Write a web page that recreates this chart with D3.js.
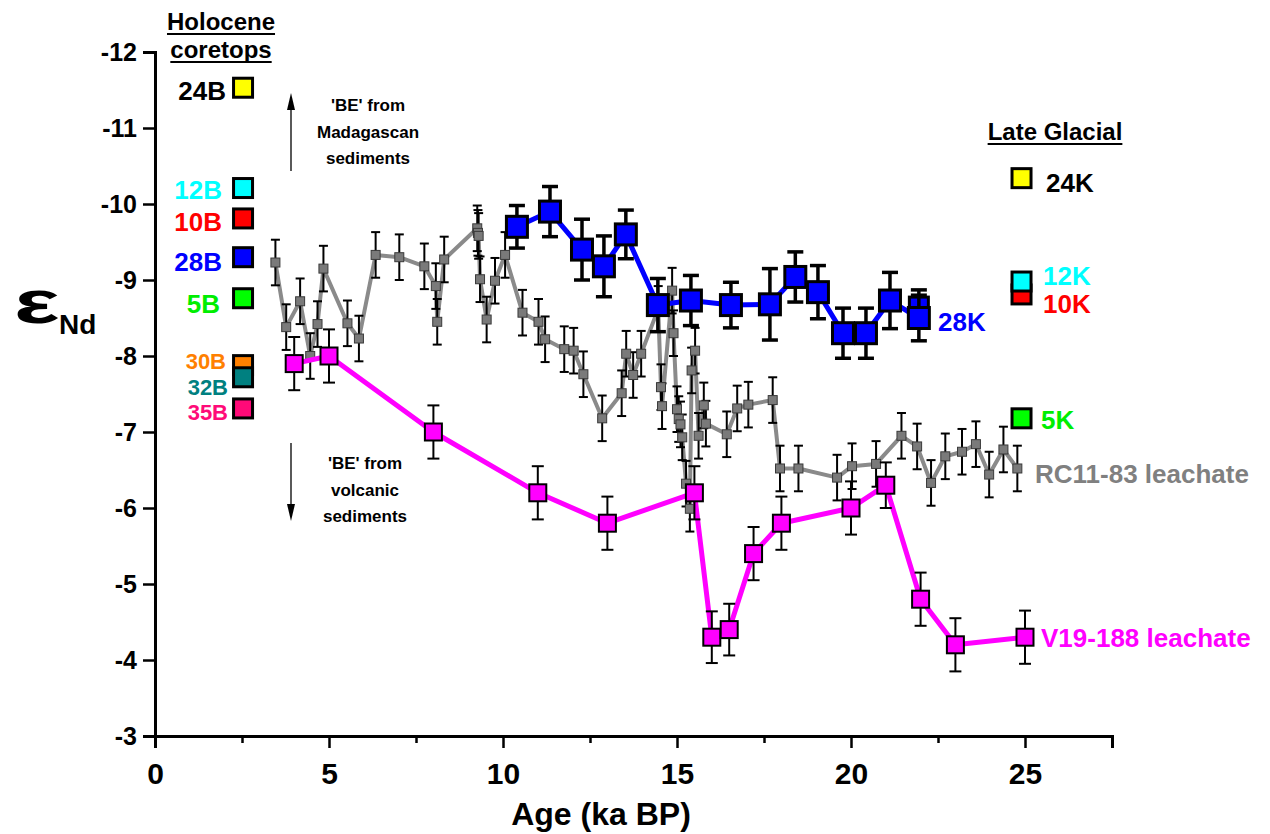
<!DOCTYPE html>
<html><head><meta charset="utf-8">
<script src="https://cdn.jsdelivr.net/npm/d3@7"></script>
<style>body{margin:0;background:#fff}svg{display:block}text{font-family:"Liberation Sans",Arial,sans-serif;font-weight:bold}</style>
</head><body><svg id="c" width="1270" height="834"></svg>
<script>
// ---- data ----
const xTicks = [0,5,10,15,20,25];
const xMinorTicks = [2.5,7.5,12.5,17.5,22.5,27.5];
const yTicks = [-12,-11,-10,-9,-8,-7,-6,-5,-4,-3];

// V19-188 leachate
const v19Age = [4,5,8,11,13,15.5,16,16.5,17.2,18,20,21,22,23,25];
const v19Eps = [-7.9,-8.0,-7.0,-6.2,-5.8,-6.2,-4.3,-4.4,-5.4,-5.8,-6.0,-6.3,-4.8,-4.2,-4.3];
const v19Err = [0.35,0.35,0.35,0.35,0.35,0.35,0.34,0.34,0.35,0.35,0.35,0.3,0.35,0.35,0.35];

// 28K
const k28Age = [10.4,11.35,12.27,12.9,13.53,14.45,15.4,16.55,17.67,18.4,19.05,19.77,20.43,21.12,21.95];
const k28Eps = [-9.7,-9.9,-9.4,-9.18,-9.6,-8.67,-8.73,-8.67,-8.68,-9.04,-8.84,-8.3,-8.3,-8.73,-8.5];
const k28Err = [0.28,0.33,0.4,0.4,0.32,0.35,0.33,0.3,0.47,0.33,0.35,0.33,0.33,0.37,0.3];
const k28ExtraAge = [21.95];
const k28ExtraEps = [-8.65];
const k28ExtraErr = [0.22];

// RC11-83 leachate
const rcAge = [3.46,3.77,4.17,4.46,4.67,4.84,5.53,5.86,6.34,7.02,7.74,8.07,8.11,8.31,9.26,9.28,9.3,9.34,9.53,9.77,10.06,10.56,11.02,11.21,11.76,12.03,12.31,12.85,13.41,13.54,13.74,13.97,14.46,14.54,14.57,14.86,14.9,15.0,15.05,15.1,15.15,15.26,15.37,15.42,15.52,15.62,15.77,15.83,16.43,16.73,17.05,17.75,17.96,18.49,19.6,20.03,20.72,21.45,21.9,22.3,22.71,23.19,23.59,23.97,24.38,24.78];
const rcEps = [-9.23,-8.38,-8.72,-8.0,-8.42,-9.15,-8.43,-8.23,-9.33,-9.3,-9.18,-8.92,-8.45,-9.27,-9.68,-9.62,-9.58,-9.01,-8.48,-8.99,-9.33,-8.57,-8.45,-8.22,-8.09,-8.07,-7.76,-7.18,-7.51,-8.03,-7.75,-8.03,-8.62,-7.59,-7.34,-8.86,-8.3,-7.3,-7.17,-7.1,-6.93,-6.32,-5.99,-7.81,-8.07,-6.95,-7.35,-7.11,-6.97,-7.31,-7.36,-7.42,-6.52,-6.52,-6.4,-6.55,-6.58,-6.95,-6.81,-6.33,-6.68,-6.74,-6.84,-6.44,-6.77,-6.52];
const rcErr = 0.3;

// Holocene coretops
const holoNames = ["24B","12B","10B","28B","5B","30B","32B","35B"];
const holoEps = [-11.53,-10.21,-9.81,-9.3,-8.76,-7.88,-7.72,-7.31];
const holoColors = ["#ffff00","#00ffff","#ff0000","#0000ff","#00ff00","#ff8000","#008080","#ff0a78"];
const holoLabelColors = ["#000000","#00ffff","#ff0000","#0000ff","#00ee00","#ff8000","#008080","#ff0a78"];
const holoAge = 2.53;

// Late Glacial
const lgNames = ["24K","10K","12K","5K"];
const lgEps = [-10.34,-8.81,-8.98,-7.18];
const lgColors = ["#ffff00","#ff0000","#00ffff","#00ff00"];
const lgLabelColors = ["#000000","#ff0000","#00ffff","#00ee00"];
const lgAge = 24.9;

// ---- chart ----
const svg = d3.select("#c");
const x = d3.scaleLinear().domain([0,27.5]).range([155,1112]);
const y = d3.scaleLinear().domain([-12,-3]).range([52,736]);

// axes
const xAxis = svg.append("g").attr("transform","translate(0,736)")
  .call(d3.axisBottom(x).tickValues(xTicks).tickSize(12).tickPadding(15).tickFormat(d=>String(d)));
svg.append("g").attr("transform","translate(0,736)")
  .call(d3.axisBottom(x).tickValues(xMinorTicks).tickSize(7).tickFormat(""))
  .select(".domain").remove();
const yAxis = svg.append("g").attr("transform","translate(155,0)")
  .call(d3.axisLeft(y).tickValues(yTicks).tickSize(12).tickPadding(6).tickFormat(d=>String(d)));
svg.selectAll(".domain").attr("stroke","#000").attr("stroke-width",3);
svg.selectAll(".tick line").attr("stroke","#000").attr("stroke-width",2.5);
xAxis.selectAll(".tick text").attr("font-family","'Liberation Sans Narrow','Liberation Sans',Arial").attr("font-weight","bold").attr("font-size",30).attr("fill","#000");
yAxis.selectAll(".tick text").attr("font-family","'Liberation Sans',Arial").attr("font-weight","bold").attr("font-size",25).attr("fill","#000");

svg.append("text").attr("x",601).attr("y",825).attr("text-anchor","middle")
  .attr("font-family","'Liberation Sans Narrow','Liberation Sans',Arial").attr("font-size",32).text("Age (ka BP)");
svg.append("text").attr("transform","translate(14,323) scale(1.55,1)")
  .attr("font-family","'DejaVu Sans',sans-serif").attr("font-size",62).text("ε");
svg.append("text").attr("x",59).attr("y",334).attr("font-size",28).text("Nd");

function series(ages, eps, errs, opt){
  const pts = ages.map((a,i)=>({a, e:eps[i], err: Array.isArray(errs)?errs[i]:errs}));
  const g = svg.append("g");
  if(opt.line){
    g.append("path").datum(pts).attr("fill","none").attr("stroke",opt.line).attr("stroke-width",opt.lw)
      .attr("stroke-linejoin","round")
      .attr("d",d3.line().x(d=>x(d.a)).y(d=>y(d.e)));
  }
  const eb = g.selectAll(".eb").data(pts).enter().append("g").attr("stroke","#000").attr("stroke-width",opt.ew);
  eb.append("line").attr("x1",d=>x(d.a)).attr("x2",d=>x(d.a)).attr("y1",d=>y(d.e-d.err)).attr("y2",d=>y(d.e+d.err));
  eb.append("line").attr("x1",d=>x(d.a)-opt.cap).attr("x2",d=>x(d.a)+opt.cap).attr("y1",d=>y(d.e-d.err)).attr("y2",d=>y(d.e-d.err));
  eb.append("line").attr("x1",d=>x(d.a)-opt.cap).attr("x2",d=>x(d.a)+opt.cap).attr("y1",d=>y(d.e+d.err)).attr("y2",d=>y(d.e+d.err));
  g.selectAll("rect").data(pts).enter().append("rect")
    .attr("x",d=>x(d.a)-opt.s/2).attr("y",d=>y(d.e)-opt.s/2).attr("width",opt.s).attr("height",opt.s)
    .attr("fill",opt.fill).attr("stroke",opt.stroke).attr("stroke-width",opt.sw);
}

series(rcAge, rcEps, rcErr, {line:"#8a8a8a", lw:4, ew:2, cap:4.5, s:9, fill:"#7a7a7a", stroke:"#3a3a3a", sw:1});
series(v19Age, v19Eps, v19Err, {line:"#ff00ff", lw:5, ew:2, cap:6, s:17, fill:"#ff00ff", stroke:"#000", sw:2});
series(k28ExtraAge, k28ExtraEps, k28ExtraErr, {line:null, ew:3.5, cap:8, s:19, fill:"#0000ff", stroke:"#000", sw:3});
series(k28Age, k28Eps, k28Err, {line:"#0000ff", lw:5, ew:3.5, cap:8, s:21, fill:"#0000ff", stroke:"#000", sw:3});

// Holocene coretop markers
svg.append("g").selectAll("rect").data(holoEps).enter().append("rect")
  .attr("x",x(holoAge)-9.5).attr("y",d=>y(d)-9.5).attr("width",19).attr("height",19)
  .attr("fill",(d,i)=>holoColors[i]).attr("stroke","#000").attr("stroke-width",3);
const holoLabelX = [226,222,222,222,220,226,228,228];
const holoLabelY = [100,199,231,271,313,369,395,420];
const holoLabelSize = [26,26,26,26,26,22,22,22];
svg.append("g").selectAll("text").data(holoNames).enter().append("text")
  .attr("x",(d,i)=>holoLabelX[i]).attr("y",(d,i)=>holoLabelY[i]).attr("text-anchor","end")
  .attr("font-size",(d,i)=>holoLabelSize[i]).attr("fill",(d,i)=>holoLabelColors[i]).text(d=>d);

// Late Glacial markers
svg.append("g").selectAll("rect").data(lgEps).enter().append("rect")
  .attr("x",x(lgAge)-9.5).attr("y",d=>y(d)-9.5).attr("width",19).attr("height",19)
  .attr("fill",(d,i)=>lgColors[i]).attr("stroke","#000").attr("stroke-width",3);
const lgLabelX = [1046,1043,1043,1041];
const lgLabelY = [192,313,285,429];
svg.append("g").selectAll("text").data(lgNames).enter().append("text")
  .attr("x",(d,i)=>lgLabelX[i]).attr("y",(d,i)=>lgLabelY[i])
  .attr("font-size",26).attr("fill",(d,i)=>lgLabelColors[i]).text(d=>d);

// headings
function heading(t, cx, by){
  const tx = svg.append("text").attr("x",cx).attr("y",by).attr("text-anchor","middle").attr("font-size",24).text(t);
  const w = tx.node().getComputedTextLength();
  svg.append("line").attr("x1",cx-w/2).attr("x2",cx+w/2).attr("y1",by+4).attr("y2",by+4).attr("stroke","#000").attr("stroke-width",2);
}
heading("Holocene",221,30);
heading("coretops",221,58);
heading("Late Glacial",1055,140);

// series labels
svg.append("text").attr("x",938).attr("y",331).attr("font-size",26).attr("fill","#0000ff").text("28K");
svg.append("text").attr("x",1035).attr("y",483).attr("font-size",26).attr("fill","#808080").text("RC11-83 leachate");
svg.append("text").attr("x",1041).attr("y",647).attr("font-size",26).attr("fill","#ff00ff").text("V19-188 leachate");

// annotations
const ann1 = ["'BE' from","Madagascan","sediments"];
const ann2 = ["'BE' from","volcanic","sediments"];
svg.append("g").selectAll("text").data(ann1).enter().append("text")
  .attr("x",368).attr("y",(d,i)=>111+i*26.5).attr("text-anchor","middle").attr("font-size",17).text(d=>d);
svg.append("g").selectAll("text").data(ann2).enter().append("text")
  .attr("x",365).attr("y",(d,i)=>469+i*26.5).attr("text-anchor","middle").attr("font-size",17).text(d=>d);
svg.append("line").attr("x1",291).attr("x2",291).attr("y1",171).attr("y2",106).attr("stroke","#000").attr("stroke-width",1.3);
svg.append("path").attr("d","M291,93 L287,110 L295,110 Z").attr("fill","#000");
svg.append("line").attr("x1",291).attr("x2",291).attr("y1",443).attr("y2",508).attr("stroke","#000").attr("stroke-width",1.3);
svg.append("path").attr("d","M291,521 L287,504 L295,504 Z").attr("fill","#000");
</script></body></html>
